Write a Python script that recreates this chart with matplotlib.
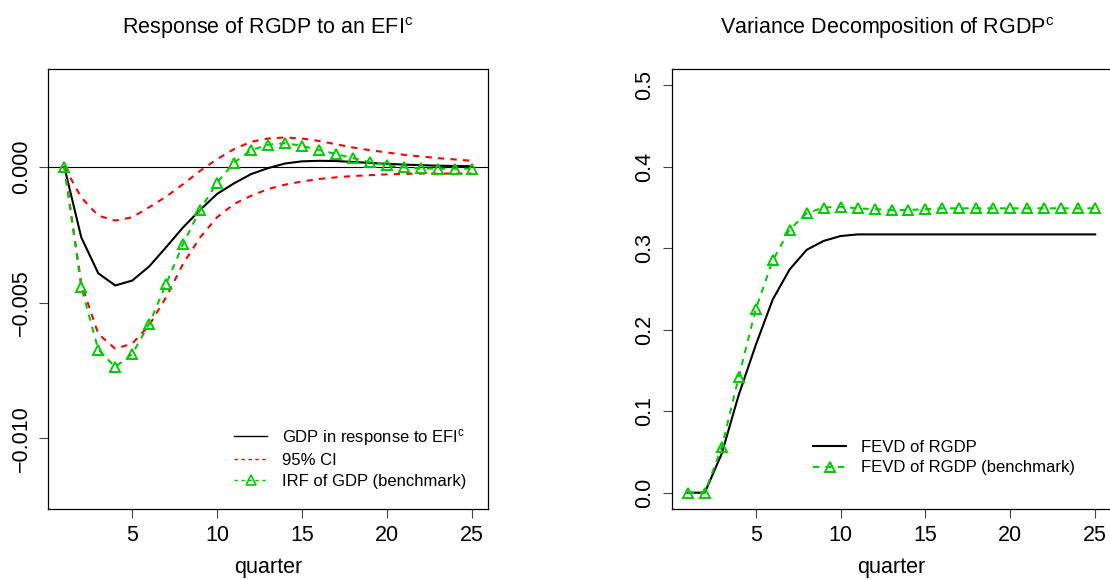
import numpy as np
import matplotlib
matplotlib.use("Agg")
import matplotlib.pyplot as plt
from matplotlib.lines import Line2D

plt.rcParams['font.family'] = ['Liberation Sans', 'DejaVu Sans']
plt.rcParams['mathtext.fontset'] = 'custom'
plt.rcParams['mathtext.rm'] = 'Liberation Sans'
plt.rcParams['mathtext.it'] = 'Liberation Sans:italic'

# data
quarter = np.arange(1, 26)

irf_gdp = [0.0, -0.0026, -0.00392, -0.00437, -0.00419, -0.00367, -0.00296,
           -0.00223, -0.00159, -0.0010, -0.00061, -0.00027, -0.00005,
           0.00012, 0.0002, 0.00022, 0.00021, 0.00018, 0.00014, 0.00011,
           0.00008, 0.00006, 0.00004, 0.00003, 0.00002]
ci_upper = [0.0, -0.00113, -0.0018, -0.00198, -0.00186, -0.00149, -0.0011,
            -0.00064, -0.00015, 0.00028, 0.00065, 0.00092, 0.00104, 0.00108,
            0.00104, 0.00095, 0.00083, 0.00071, 0.00061, 0.00053, 0.00044,
            0.00038, 0.00032, 0.00027, 0.00022]
ci_lower = [0.0, -0.0043, -0.00615, -0.0067, -0.00651, -0.00584, -0.0048,
            -0.00357, -0.0026, -0.00186, -0.00137, -0.00107, -0.00082,
            -0.00066, -0.00054, -0.00045, -0.00039, -0.00034, -0.00031,
            -0.00028, -0.00026, -0.00025, -0.00025, -0.00025, -0.00025]
irf_bench = [0.0, -0.00443, -0.00673, -0.00737, -0.0069, -0.00578, -0.00431,
             -0.00284, -0.00158, -0.00058, 0.00015, 0.00061, 0.00081,
             0.00087, 0.00077, 0.00062, 0.00047, 0.00032, 0.00017, 0.00006,
             -0.00002, -0.00006, -0.00007, -0.00007, -0.00007]

fevd = [0.0, 0.0, 0.048, 0.12, 0.181, 0.237, 0.274, 0.298, 0.309, 0.315,
        0.317, 0.317, 0.317, 0.317, 0.317, 0.317, 0.317, 0.317, 0.317,
        0.317, 0.317, 0.317, 0.317, 0.317, 0.317]
fevd_bench = [0.0, 0.0, 0.056, 0.142, 0.225, 0.285, 0.323, 0.343, 0.350,
              0.351, 0.349, 0.348, 0.347, 0.347, 0.348, 0.349, 0.349, 0.349,
              0.349, 0.349, 0.349, 0.349, 0.349, 0.349, 0.349]

green = '#00CD00'
fs = 15.5
dash = (0, (3, 3))

fig = plt.figure(figsize=(11.1, 5.8), dpi=100)
W, H = 1110.0, 580.0


def style_axes(ax):
    for s in ax.spines.values():
        s.set_linewidth(0.9)
    ax.tick_params(axis='both', length=6.5, width=0.8, labelsize=fs,
                   color='#444444')
    ax.tick_params(axis='x', pad=5)
    ax.tick_params(axis='y', pad=5)
    for lab in ax.get_yticklabels():
        lab.set_rotation(90)
        lab.set_va('center')
    ax.set_xlabel('quarter', fontsize=fs, labelpad=8)


# left panel: impulse response
ax1 = fig.add_axes([48 / W, 71 / H, 440 / W, 440 / H])
ax1.axhline(0, color='black', lw=0.8)
ax1.plot(quarter, irf_gdp, color='black', lw=1.5)
ax1.plot(quarter, ci_upper, color='red', lw=1.5, linestyle=dash)
ax1.plot(quarter, ci_lower, color='red', lw=1.5, linestyle=dash)
ax1.plot(quarter, irf_bench, color=green, lw=1.5, linestyle=dash,
         marker='^', ms=7.5, mfc='none', mew=1.4)
ax1.set_xlim(0.04, 25.96)
ax1.set_ylim(-0.0126, 0.0036)
ax1.set_xticks([5, 10, 15, 20, 25])
ax1.set_yticks([-0.010, -0.005, 0.0])
ax1.set_yticklabels(['\u22120.010', '\u22120.005', '0.000'])
ax1.set_title('Response of RGDP to an EFI$^{\\mathrm{c}}$', fontsize=fs,
              pad=25)
style_axes(ax1)

h1 = [Line2D([], [], color='black', lw=1.0),
      Line2D([], [], color='red', lw=1.0, linestyle=(0, (2.5, 2.5))),
      Line2D([], [], color=green, lw=1.0, linestyle=(0, (2.5, 2.5)),
             marker='^', ms=7.5, mfc='none', mew=1.2)]
ax1.legend(h1, ['GDP in response to EFI$^{\\mathrm{c}}$', '95% CI',
                'IRF of GDP (benchmark)'],
           loc='upper left', bbox_to_anchor=(234 / W, 1 - 427 / H),
           bbox_transform=fig.transFigure, frameon=False, fontsize=12,
           handlelength=2.0, handletextpad=0.9, labelspacing=0.32,
           borderpad=0, borderaxespad=0)

# right panel: variance decomposition
ax2 = fig.add_axes([671.5 / W, 71 / H, 440 / W, 440 / H])
ax2.plot(quarter, fevd, color='black', lw=1.5)
ax2.plot(quarter, fevd_bench, color=green, lw=1.5, linestyle=dash,
         marker='^', ms=7.5, mfc='none', mew=1.4)
ax2.set_xlim(0.04, 25.96)
ax2.set_ylim(-0.02, 0.52)
ax2.set_xticks([5, 10, 15, 20, 25])
ax2.set_yticks([0.0, 0.1, 0.2, 0.3, 0.4, 0.5])
ax2.set_yticklabels(['0.0', '0.1', '0.2', '0.3', '0.4', '0.5'])
ax2.set_title('Variance Decomposition of RGDP$^{\\mathrm{c}}$', fontsize=fs,
              pad=25, x=(887 - 671.5) / 440)
style_axes(ax2)

h2 = [Line2D([], [], color='black', lw=1.5),
      Line2D([], [], color=green, lw=1.5, linestyle=dash,
             marker='^', ms=7.5, mfc='none', mew=1.4)]
ax2.legend(h2, ['FEVD of RGDP', 'FEVD of RGDP (benchmark)'],
           loc='upper left', bbox_to_anchor=(813 / W, 1 - 440 / H),
           bbox_transform=fig.transFigure, frameon=False, fontsize=12,
           handlelength=2.0, handletextpad=0.9, labelspacing=0.32,
           borderpad=0, borderaxespad=0)

fig.savefig('out.png', dpi=100)
